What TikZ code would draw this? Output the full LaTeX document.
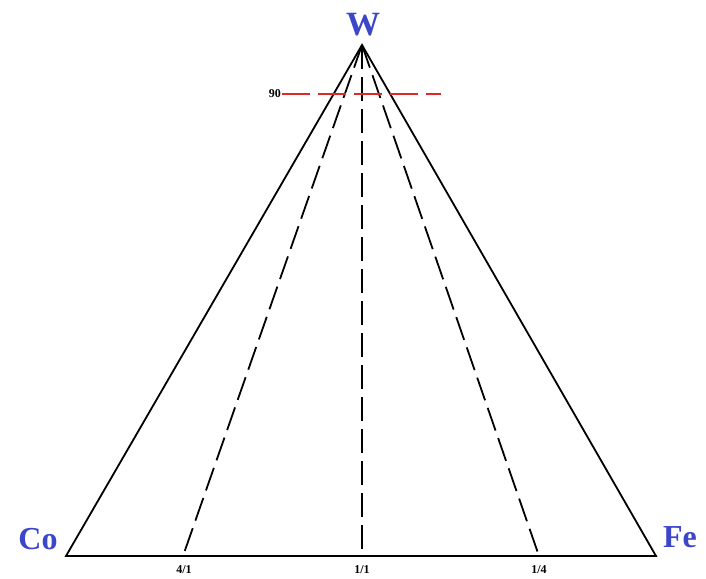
\documentclass[tikz,border=0pt]{standalone}
\usepackage{fontspec}
\setmainfont{Liberation Serif}
\definecolor{elblue}{RGB}{60,70,200}
\definecolor{redl}{RGB}{225,40,40}
\tikzset{
  side/.style={draw=black, line width=1.8pt, line join=miter},
  guide/.style={draw=black, line width=1.8pt, dash pattern=on 24pt off 8pt},
  redguide/.style={draw=redl, line width=1.4pt, dash pattern=on 28pt off 8pt},
  elem/.style={font=\fontsize{34}{34}\selectfont\bfseries, text=elblue, inner sep=0pt},
  ratio/.style={font=\fontsize{12}{12}\selectfont\bfseries, inner sep=0pt}
}
\begin{document}
\begin{tikzpicture}[x=1pt,y=-1pt]
\useasboundingbox (0,0) rectangle (706,578);
\coordinate (W) at (362,45);
\coordinate (Co) at (66,556);
\coordinate (Fe) at (656,556);
\coordinate (p41) at (183,556);
\coordinate (p11) at (362,556);
\coordinate (p14) at (539,556);
\coordinate (r1) at (282,94);
\coordinate (r2) at (441,94);
\draw[side] (W) -- (Co) -- (Fe) -- cycle;
\draw[guide] (W) -- (p41);
\draw[guide] (W) -- (p11);
\draw[guide] (W) -- (p14);
\draw[redguide] (r1) -- (r2);
\node[elem] (lW) at (363,25) {W};
\node[elem, font=\fontsize{32}{32}\selectfont\bfseries] (lCo) at (38,539) {Co};
\node[elem, font=\fontsize{32}{32}\selectfont\bfseries] (lFe) at (680,537) {Fe};
\node[ratio, anchor=east] (l90) at (281,94) {90};
\node[ratio] (l41) at (184,570) {4/1};
\node[ratio] (l11) at (362,570) {1/1};
\node[ratio] (l14) at (539,570) {1/4};
\end{tikzpicture}
\end{document}
